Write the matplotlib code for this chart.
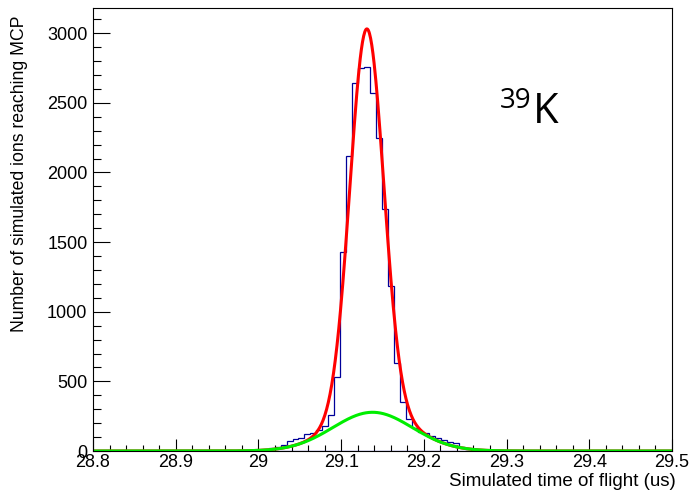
import numpy as np
import matplotlib.pyplot as plt
from matplotlib.ticker import MultipleLocator, FormatStrFormatter

# histogram of simulated time of flight (us), fixed-width bins
bin_start = 29.0052
bin_width = 0.0072
counts = [8, 20, 31, 45, 72, 88, 95, 120, 130, 150, 180, 258, 533,
          1430, 2117, 2640, 2747, 2758, 2572, 2244, 1735, 1187, 632,
          354, 230, 165, 140, 127, 110, 91, 79, 65, 55, 30, 15, 5]

# fit: narrow gaussian + broad gaussian
narrow = [2756, 29.131, 0.0203]   # amplitude, mean, sigma
broad = [278, 29.138, 0.048]

x_range = (28.8, 29.5)
y_max = 3181

def gaus(x, p):
    return p[0]*np.exp(-0.5*((x - p[1])/p[2])**2)

edges = bin_start + bin_width*np.arange(len(counts) + 1)
xs = np.linspace(x_range[0], x_range[1], 1000)

plt.rcParams['font.family'] = ['Liberation Sans', 'DejaVu Sans']

fig = plt.figure(figsize=(6.93, 4.91), dpi=100)
ax = fig.add_axes([93/693, 40/491, 579/693, 443/491])

ax.plot(x_range, [0, 0], color='#000099', lw=0.9)
ax.stairs(counts, edges, color='#000099', lw=0.9, baseline=0)
ax.plot(xs, gaus(xs, narrow) + gaus(xs, broad), color='#ff0000', lw=2.2, solid_joinstyle='round')
ax.plot(xs, gaus(xs, broad), color='#00ee00', lw=2.2)

ax.set_xlim(*x_range)
ax.set_ylim(0, y_max)

ax.xaxis.set_major_locator(MultipleLocator(0.1))
ax.xaxis.set_minor_locator(MultipleLocator(0.02))
ax.xaxis.set_major_formatter(FormatStrFormatter('%g'))
ax.yaxis.set_major_locator(MultipleLocator(500))
ax.yaxis.set_minor_locator(MultipleLocator(100))

ax.tick_params(axis='both', which='both', direction='in', width=0.8, labelsize=13)
ax.tick_params(axis='x', which='major', length=8.5, pad=2)
ax.tick_params(axis='x', which='minor', length=4.3)
ax.tick_params(axis='y', which='major', length=12, pad=4)
ax.tick_params(axis='y', which='minor', length=6)
for s in ax.spines.values():
    s.set_linewidth(0.8)

fig.text(676/693, 1 - 481/491, 'Simulated time of flight (us)', ha='right', va='center', fontsize=13.5)
fig.text(20/693, 1 - 16/491, 'Number of simulated ions reaching MCP', rotation=90,
         ha='center', va='top', fontsize=12.7)

# isotope tag
fig.text(500/693, 1 - 108/491, '39', fontsize=20, family=['Open Sans', 'DejaVu Sans'], ha='left', va='baseline')
fig.text(533/693, 1 - 123/491, 'K', fontsize=30, family=['Open Sans', 'DejaVu Sans'], ha='left', va='baseline')

fig.savefig('out.png', dpi=100)
